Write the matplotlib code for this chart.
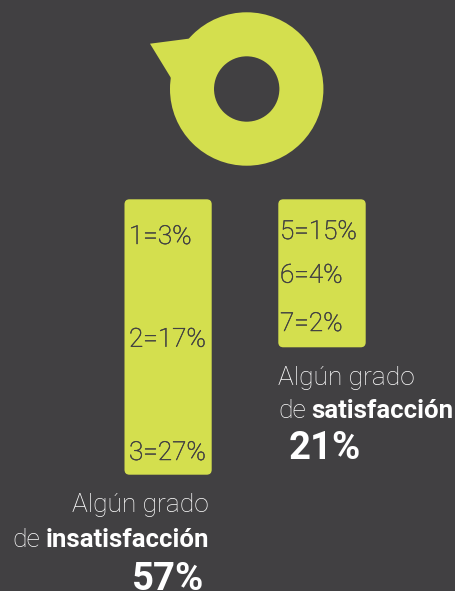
import matplotlib
matplotlib.use("Agg")
import matplotlib.pyplot as plt
import matplotlib.patheffects as pe
from matplotlib.patches import Circle, FancyBboxPatch, Polygon

# -------- Datos --------
insatisfaccion_labels = ["1=3%", "2=17%", "3=27%"]
satisfaccion_labels = ["5=15%", "6=4%", "7=2%"]
insatisfaccion_total = "57%"
satisfaccion_total = "21%"

BG = "#414042"
LIME = "#d4df4e"
WHITE = "#ffffff"

plt.rcParams["font.family"] = ["Roboto", "DejaVu Sans"]

# -------- Figura en coordenadas de pixel --------
fig = plt.figure(figsize=(4.56, 5.91), dpi=100, facecolor=BG)
ax = fig.add_axes([0, 0, 1, 1])
ax.set_xlim(0, 456)
ax.set_ylim(591, 0)
ax.axis("off")

# -------- Icono --------
ax.add_patch(Polygon([(150, 43.7), (190, 38.5), (171, 78)], color=LIME, lw=0))
ax.add_patch(Circle((246.7, 89), 54.7, fill=False, ec=LIME, lw=44 * 0.72))

# -------- Barras --------
def barra(x0, y0, x1, y1):
    r = 5
    ax.add_patch(FancyBboxPatch((x0 + r, y0 + r), x1 - x0 - 2 * r, y1 - y0 - 2 * r,
                                boxstyle=f"round,pad={r},rounding_size={r}", fc=LIME, ec="none"))

barra(124.5, 199.3, 211.7, 474.7)
barra(278.3, 199.3, 365.7, 347.3)

# la Light sale mas fina que en el original, se engrosa un poco
grueso = [pe.withStroke(linewidth=0.35, foreground=BG)]
for label, y in zip(insatisfaccion_labels, [244, 346.7, 460]):
    ax.text(129, y, label, fontsize=18.8, fontweight="light", color=BG, va="baseline", ha="left", path_effects=grueso)
for label, y in zip(satisfaccion_labels, [239, 282.7, 331]):
    ax.text(280, y, label, fontsize=18.8, fontweight="light", color=BG, va="baseline", ha="left", path_effects=grueso)

# -------- Textos --------
ax.text(209, 511.7, "Algún grado", fontsize=19, fontweight="light", color=WHITE, ha="right", va="baseline")
ax.text(12, 546.7, "de", fontsize=19, fontweight="light", color=WHITE, ha="left", va="baseline")
ax.text(209.5, 546.7, "insatisfacción", fontsize=18.5, fontweight="bold", color=WHITE, ha="right", va="baseline")
ax.text(204, 589.5, insatisfaccion_total, fontsize=27.5, fontweight="bold", color=WHITE, ha="right", va="baseline")

ax.text(278, 385, "Algún grado", fontsize=19, fontweight="light", color=WHITE, ha="left", va="baseline")
ax.text(278, 418, "de", fontsize=19, fontweight="light", color=WHITE, ha="left", va="baseline")
ax.text(453, 418, "satisfacción", fontsize=18.5, fontweight="bold", color=WHITE, ha="right", va="baseline")
ax.text(289, 459, satisfaccion_total, fontsize=27.5, fontweight="bold", color=WHITE, ha="left", va="baseline")

fig.savefig("out.png", dpi=100, facecolor=BG)
